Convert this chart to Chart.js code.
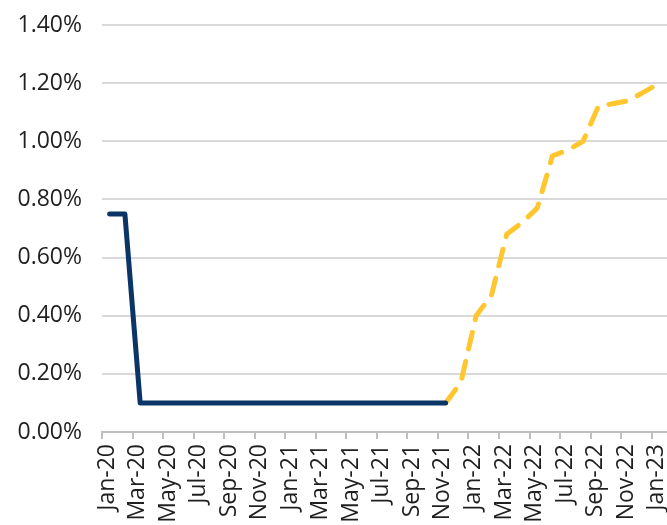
<!DOCTYPE html>
<html>
<head>
<meta charset="utf-8">
<script src="https://cdn.jsdelivr.net/npm/chart.js@4"></script>
<style>
  body { margin: 0; background: #fff; }
</style>
</head>
<body>
<canvas id="rate-chart" width="667" height="525"></canvas>
<script>
// month labels, one per category (Jan-20 .. Jan-23)
const months = [
  'Jan-20', 'Feb-20', 'Mar-20', 'Apr-20', 'May-20', 'Jun-20', 'Jul-20', 'Aug-20', 'Sep-20', 'Oct-20', 'Nov-20', 'Dec-20',
  'Jan-21', 'Feb-21', 'Mar-21', 'Apr-21', 'May-21', 'Jun-21', 'Jul-21', 'Aug-21', 'Sep-21', 'Oct-21', 'Nov-21', 'Dec-21',
  'Jan-22', 'Feb-22', 'Mar-22', 'Apr-22', 'May-22', 'Jun-22', 'Jul-22', 'Aug-22', 'Sep-22', 'Oct-22', 'Nov-22', 'Dec-22',
  'Jan-23'
];

// actual rate (%), null where no data
const actualRate = [
  0.75, 0.75, 0.10, 0.10, 0.10, 0.10, 0.10, 0.10, 0.10, 0.10, 0.10, 0.10,
  0.10, 0.10, 0.10, 0.10, 0.10, 0.10, 0.10, 0.10, 0.10, 0.10, 0.10, null,
  null, null, null, null, null, null, null, null, null, null, null, null,
  null
];

// market implied path (%)
const impliedRate = [
  null, null, null, null, null, null, null, null, null, null, null, null,
  null, null, null, null, null, null, null, null, null, null, 0.10, 0.17,
  0.40, 0.47, 0.68, 0.72, 0.77, 0.95, 0.97, 1.00, 1.12, 1.13, 1.14, 1.17,
  1.20
];

const yTicks = [0, 0.2, 0.4, 0.6, 0.8, 1.0, 1.2, 1.4];

// points sit in the middle of each month, ticks on month boundaries
function toPoints(values) {
  const pts = [];
  values.forEach((v, i) => {
    if (v !== null) pts.push({ x: i + 0.5, y: v });
  });
  return pts;
}

const font = { family: '"Open Sans", sans-serif', size: 23 };

const ctx = document.getElementById('rate-chart').getContext('2d');
const rateChart = new Chart(ctx, {
  type: 'line',
  data: {
    datasets: [{
      data: toPoints(actualRate),
      borderColor: '#0b3567',
      borderWidth: 5,
      borderCapStyle: 'round',
      borderJoinStyle: 'round',
      pointRadius: 0,
      tension: 0
    }, {
      data: toPoints(impliedRate),
      borderColor: '#ffc62f',
      borderWidth: 5,
      borderDash: [17, 13],
      borderCapStyle: 'round',
      borderJoinStyle: 'round',
      pointRadius: 0,
      tension: 0
    }]
  },
  options: {
    responsive: false,
    animation: false,
    layout: { padding: { top: 25, left: 16, right: 0, bottom: 3 } },
    plugins: {
      legend: { display: false },
      tooltip: { enabled: false }
    },
    scales: {
      x: {
        type: 'linear',
        min: 0,
        max: months.length,
        afterBuildTicks: (scale) => {
          scale.ticks = months
            .map((m, i) => ({ value: i }))
            .filter(t => t.value % 2 === 0);
        },
        // labels never reach the plot edges, so drop the side padding
        afterFit: (scale) => {
          scale.paddingLeft = 0;
          scale.paddingRight = 0;
          scale.height = 90;
        },
        ticks: {
          autoSkip: false,
          minRotation: 90,
          maxRotation: 90,
          padding: 5,
          labelOffset: 5,
          color: '#1f1f1f',
          font: font,
          callback: (v) => months[v]
        },
        grid: {
          drawOnChartArea: false,
          drawTicks: true,
          tickLength: 7,
          color: '#bfbfbf',
          lineWidth: 2
        },
        border: { color: '#bfbfbf', width: 2 }
      },
      y: {
        min: 0,
        max: 1.4,
        afterBuildTicks: (scale) => {
          scale.ticks = yTicks.map(v => ({ value: v }));
        },
        afterFit: (scale) => {
          scale.paddingTop = 0;
          scale.paddingBottom = 0;
          scale.width = 86;
        },
        ticks: {
          padding: 20,
          color: '#1f1f1f',
          font: font,
          callback: (v) => v.toFixed(2) + '%'
        },
        grid: {
          drawTicks: false,
          color: '#d9d9d9',
          lineWidth: 2
        },
        border: { display: false }
      }
    }
  }
});
</script>
</body>
</html>
